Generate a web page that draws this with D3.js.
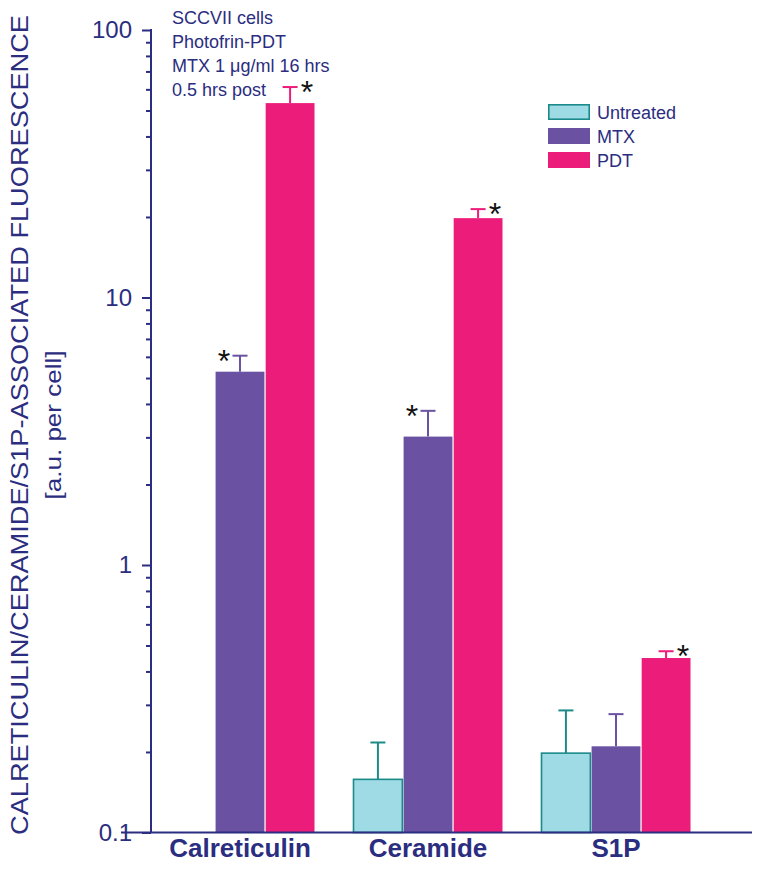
<!DOCTYPE html>
<html><head><meta charset="utf-8">
<script src="https://cdn.jsdelivr.net/npm/d3@7/dist/d3.min.js"></script>
<style>body{margin:0;background:#fff}svg{display:block;font-family:"Liberation Sans",Arial,sans-serif}</style>
</head><body><svg id="c" width="764" height="871"></svg>
<script>
const categories = ["Calreticulin", "Ceramide", "S1P"];
const seriesNames = ["Untreated", "MTX", "PDT"];
const untreated = [null, 0.158, 0.198];
const untreatedErrTop = [null, 0.217, 0.286];
const mtx = [5.28, 3.02, 0.21];
const mtxErrTop = [6.06, 3.77, 0.277];
const pdt = [53.3, 19.8, 0.449];
const pdtErrTop = [61.2, 21.4, 0.476];
const untreatedStar = [false, false, false];
const mtxStar = [true, true, false];
const pdtStar = [true, true, true];
const yTickLabels = [0.1, 1, 10, 100];
const annotation = ["SCCVII cells", "Photofrin-PDT", "MTX 1 \u03bcg/ml 16 hrs", "0.5 hrs post"];
const yTitle = "CALRETICULIN/CERAMIDE/S1P-ASSOCIATED FLUORESCENCE";
const yTitle2 = "[a.u. per cell]";

const navy = "#2b2d80";
const fills = {Untreated: "#9fdbe5", MTX: "#6b51a1", PDT: "#ec1c7a"};
const strokes = {Untreated: "#1b8b8a", MTX: "#6b51a1", PDT: "#ec1c7a"};

const series = [
  {name: "Untreated", vals: untreated, err: untreatedErrTop, star: untreatedStar},
  {name: "MTX", vals: mtx, err: mtxErrTop, star: mtxStar},
  {name: "PDT", vals: pdt, err: pdtErrTop, star: pdtStar}
];
const rows = [];
categories.forEach((c, i) => series.forEach(s => {
  if (s.vals[i] != null) rows.push({cat: c, series: s.name, v: s.vals[i], e: s.err[i], star: s.star[i]});
}));

const svg = d3.select("#c");
const axisX = 151, y0 = 832.5;
const y = d3.scaleLog().domain([0.1, 100]).range([y0, 30]);
const x = d3.scaleBand().domain(categories).range([150, 706]).paddingInner(0.2074).paddingOuter(0.0824);
const xs = d3.scaleBand().domain(seriesNames).range([0, x.bandwidth()]).paddingInner(0.025);

// bars
const g = svg.append("g");
g.selectAll("rect.bar").data(rows).join("rect")
  .attr("x", d => x(d.cat) + xs(d.series))
  .attr("width", xs.bandwidth())
  .attr("y", d => y(d.v))
  .attr("height", d => y0 - y(d.v))
  .attr("fill", d => fills[d.series])
  .attr("stroke", d => d.series === "Untreated" ? strokes.Untreated : "none")
  .attr("stroke-width", 1.6);

// error bars
rows.forEach(d => {
  const cx = x(d.cat) + xs(d.series) + xs.bandwidth() / 2;
  g.append("line").attr("x1", cx).attr("x2", cx).attr("y1", y(d.v)).attr("y2", y(d.e))
    .attr("stroke", strokes[d.series]).attr("stroke-width", 2);
  g.append("line").attr("x1", cx - 7.5).attr("x2", cx + 7.5).attr("y1", y(d.e)).attr("y2", y(d.e))
    .attr("stroke", strokes[d.series]).attr("stroke-width", 2);
  if (d.star) {
    const sx = d.series === "MTX" ? cx - 16 : cx + 17;
    g.append("text").attr("x", sx).attr("y", y(d.e) + 16).attr("text-anchor", "middle")
      .attr("font-size", 32).attr("fill", "#111").text("*");
  }
});

// y axis
const minorVals = [];
[0.1, 1, 10].forEach(b => { for (let k = 2; k <= 9; k++) minorVals.push(b * k); });
const minorAxis = d3.axisLeft(y).tickValues(minorVals).tickSize(5).tickFormat("");
const majorAxis = d3.axisLeft(y).tickValues(yTickLabels).tickSize(9).tickPadding(10).tickFormat(d => String(d));
const ga1 = svg.append("g").attr("transform", `translate(${axisX},0)`).call(minorAxis);
const ga2 = svg.append("g").attr("transform", `translate(${axisX},0)`).call(majorAxis);
[ga1, ga2].forEach(ga => {
  ga.select(".domain").remove();
  ga.selectAll("line").attr("stroke", navy).attr("stroke-width", 2);
});
ga2.selectAll("text").attr("font-size", 24).attr("fill", navy).attr("font-family", "Liberation Sans, Arial, sans-serif");
svg.append("line").attr("x1", axisX).attr("x2", axisX).attr("y1", 29).attr("y2", y0)
  .attr("stroke", navy).attr("stroke-width", 2);
// x axis line
svg.append("line").attr("x1", 121).attr("x2", 752).attr("y1", y0).attr("y2", y0)
  .attr("stroke", navy).attr("stroke-width", 2);

// x labels
svg.append("g").selectAll("text").data(categories).join("text")
  .attr("x", d => x(d) + x.bandwidth() / 2).attr("y", 857)
  .attr("text-anchor", "middle").attr("font-size", 26).attr("font-weight", "bold")
  .attr("fill", navy).text(d => d);

// y title
const t1 = svg.append("text").attr("transform", "translate(28,425) rotate(-90)")
  .attr("text-anchor", "middle").attr("font-size", 23).attr("fill", navy).text(yTitle);
const n1 = t1.node().getComputedTextLength();
const f = 820 / n1;
t1.attr("textLength", 820).attr("lengthAdjust", "spacingAndGlyphs");
const t2 = svg.append("text").attr("transform", "translate(61,425) rotate(-90)")
  .attr("text-anchor", "middle").attr("font-size", 22).attr("fill", navy).text(yTitle2);
const n2 = t2.node().getComputedTextLength();
t2.attr("textLength", n2 * f).attr("lengthAdjust", "spacingAndGlyphs");

// annotation
svg.append("g").selectAll("text").data(annotation).join("text")
  .attr("x", 172).attr("y", (d, i) => 24 + i * 24)
  .attr("font-size", 18).attr("fill", navy).text(d => d);

// legend
const lg = svg.append("g").attr("transform", "translate(548,104)");
seriesNames.forEach((s, i) => {
  lg.append("rect").attr("x", s === "Untreated" ? 0.8 : 0).attr("y", i * 24 + (s === "Untreated" ? 0.8 : 0))
    .attr("width", s === "Untreated" ? 40.4 : 42).attr("height", s === "Untreated" ? 14.4 : 16)
    .attr("fill", fills[s]).attr("stroke", s === "Untreated" ? strokes.Untreated : "none").attr("stroke-width", 1.6);
  lg.append("text").attr("x", 49).attr("y", i * 24 + 14.5).attr("font-size", 18).attr("fill", navy).text(s);
});
</script></body></html>
